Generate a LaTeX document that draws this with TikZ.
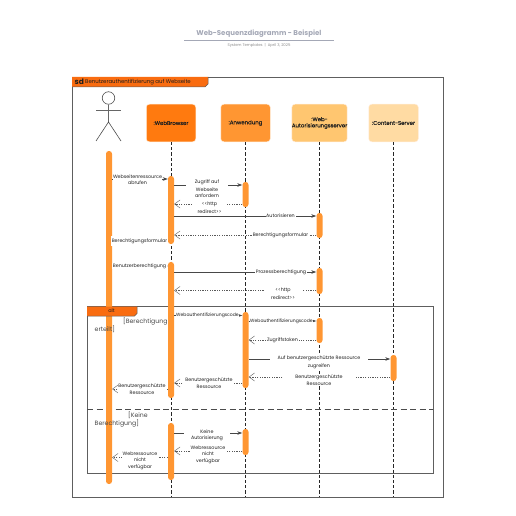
\documentclass[tikz,border=0pt]{standalone}
\usepackage{fontspec}
\setmainfont{Poppins}
\newfontfamily\medf[FakeBold=0.12]{Poppins}
\usetikzlibrary{arrows.meta,calc}
\definecolor{orA}{HTML}{FF7A0F}
\definecolor{orB}{HTML}{FF9632}
\definecolor{orC}{HTML}{FFC670}
\definecolor{orD}{HTML}{FFDBA3}
\definecolor{tabc}{HTML}{F96C10}
\definecolor{framec}{HTML}{5E5E5E}
\definecolor{txt}{HTML}{1F1F1F}
\definecolor{titlec}{HTML}{A4A8B6}
\newcommand{\fs}[1]{\fontsize{#1}{#1}\selectfont}
\tikzset{
 x=1pt,y=-1pt,
 framebox/.style={draw=framec,line width=0.9pt},
 life/.style={draw=black!85,line width=0.9pt,dash pattern=on 3.2pt off 2pt},
 lifebox/.style={draw=white!85!orange,line width=0.5pt,rounded corners=3pt,minimum height=37.5pt,inner sep=0pt,align=center,text=txt,font=\fs{5.4}\medf},
 bar/.style={fill=orB,draw=none,rounded corners=2.8pt,minimum width=6pt,inner sep=0pt},
 call/.style={draw=black!72,line width=0.7pt,-{Stealth[length=5pt,width=3.5pt]}},
 ret/.style={draw=black!65,line width=0.45pt,dash pattern=on 1.2pt off 1.2pt,-{Straight Barb[length=5.5pt,width=8pt,line width=0.4pt]}},
 lbl/.style={fill=white,inner sep=0.7pt,align=center,text=txt,font=\fs{4.8}},
 lblf/.style={inner sep=0pt,align=center,text=txt,font=\fs{4.8}},
 guard/.style={inner sep=0pt,text=black!72,font=\fs{6.2}},
}
\newcommand{\barnode}[4]{\node[bar,minimum height=#4-#3] (#1) at (#2,{(#3+#4)/2}) {};}
\begin{document}
\begin{tikzpicture}
\useasboundingbox (0,0) rectangle (516,516);
% title
\node[inner sep=0pt,text=titlec,font=\fs{7}\bfseries] (title) at (259,34) {Web-Sequenzdiagramm - Beispiel};
\coordinate (tl) at (184,40.5); \coordinate (tr) at (334,40.5);
\draw[draw=titlec,line width=0.9pt] (tl) -- (tr);
\node[inner sep=0pt,text=black!45,font=\fs{3.8}] (sub) at (259,45.5) {System Templates \ |\ \ April 3, 2025};
% main frame
\node[framebox,minimum width=371pt,minimum height=420pt,inner sep=0pt] (frame) at (257.5,287) {};
\fill[tabc] (72,77) -- (208,77) -- (208,84) -- (205,87) -- (72,87) -- cycle;
\draw[framec,line width=0.5pt] (208,77) -- (208,84) -- (205,87) -- (72,87);
\node[inner sep=0pt,text=txt,font=\fs{7.5}\bfseries,anchor=west] (sd) at (74.5,81.5) {sd};
\node[inner sep=0pt,text=txt,font=\fs{5.4},anchor=west] (sdt) at (85,82) {Benutzerauthentifizierung auf Webseite};
% actor
\node[circle,draw=black!70,line width=0.6pt,minimum size=12.5pt,inner sep=0pt] (head) at (108.5,98) {};
\coordinate (armL) at (96,110.5); \coordinate (armR) at (121,110.5);
\coordinate (hip) at (108.5,122); \coordinate (footL) at (96,141); \coordinate (footR) at (121,141);
\draw[black!60,line width=0.7pt] (head) -- (hip) (armL) -- (armR);
\draw[black!70,line width=0.6pt] (footL) -- (hip) -- (footR);
% lifeline heads
\node[lifebox,fill=orA,minimum width=49.5pt] (wb) at (171,123) {:WebBrowser};
\node[lifebox,fill=orB,minimum width=49.5pt] (app) at (245.5,123) {:Anwendung};
\node[lifebox,fill=orC,minimum width=49.5pt] (auth) at (319.5,123) {:Web-\\[0.8pt]Autorisierungsserver};
\node[lifebox,fill=orD,minimum width=49.5pt] (cs) at (393.5,123) {:Content-Server};
\coordinate (wbE) at (171,497); \coordinate (appE) at (245.5,497);
\coordinate (authE) at (319.5,497); \coordinate (csE) at (393.5,497);
\draw[life] (wb) -- (wbE); \draw[life] (app) -- (appE); \draw[life] (auth) -- (authE); \draw[life] (cs) -- (csE);
% alt frame
\node[framebox,minimum width=346pt,minimum height=166.5pt,inner sep=0pt] (alt) at (260,389.75) {};
\coordinate (sepL) at (87,409); \coordinate (sepR) at (433,409);
\draw[draw=black!70,line width=0.8pt,dash pattern=on 6pt off 3.5pt] (sepL) -- (sepR);
% activation bars
\barnode{A}{109}{151}{484}
\barnode{W1}{171}{176}{244}
\barnode{W2}{171}{262}{398}
\barnode{W3}{171}{423}{480}
\barnode{P1}{245.5}{182}{207}
\barnode{P2}{245.5}{312}{388}
\barnode{P3}{245.5}{429}{455}
\barnode{U1}{319.5}{213}{238}
\barnode{U2}{319.5}{268}{294}
\barnode{U3}{319.5}{318}{343}
\barnode{C1}{393.5}{355}{381}
% alt tab
\fill[tabc] (87,306.5) -- (137,306.5) -- (137,313.5) -- (134.5,316) -- (87,316) -- cycle;
\draw[framec,line width=0.5pt] (137,306.5) -- (137,313.5) -- (134.5,316) -- (87,316);
\node[inner sep=0pt,text=txt,font=\fs{5}] (altl) at (111.5,311) {alt};
% messages
\draw[call] (A.east |- 0,179) -- (W1.west |- 0,179);
\node[lblf,fill=white,inner sep=0.3pt] (m1) at (137.5,179.5) {Webseitenressource\\[1.7pt]abrufen};
\draw[call] (W1.east |- 0,185) -- (P1.west |- 0,185);
\node[lblf,fill=white,inner xsep=9pt,inner ysep=1pt] (m2) at (207,189) {Zugriff auf\\[1.7pt]Webseite\\[1.7pt]anfordern};
\draw[ret] (P1.west |- 0,204) -- (W1.east |- 0,204);
\node[lblf,fill=white,inner xsep=6pt,inner ysep=1pt] (m3) at (209.5,207.5) {<{}<http\\[1.7pt]redirect>{}>};
\draw[call] (W1.east |- 0,216) -- (U1.west |- 0,216);
\node[lbl] (m4) at (280.5,216) {Autorisieren};
\draw[ret] (U1.west |- 0,235) -- (W1.east |- 0,235);
\node[lbl] (m5) at (280.5,235) {Berechtigungsformular};
\draw[ret] (W1.west |- 0,241) -- (A.east |- 0,241);
\node[lbl,inner xsep=0.5pt,inner ysep=3pt] (m6) at (139.5,241) {Berechtigungsformular};
\draw[call] (A.east |- 0,266) -- (W2.west |- 0,266);
\node[lbl] (m7) at (139.5,266) {Benutzerberechtigung};
\draw[call] (W2.east |- 0,272) -- (U2.west |- 0,272);
\node[lbl] (m8) at (281,272) {Prozessberechtigung};
\draw[ret] (U2.west |- 0,290.5) -- (W2.east |- 0,290.5);
\node[lblf,fill=white,inner xsep=7pt,inner ysep=1pt] (m9) at (283,294) {<{}<http\\[1.7pt]redirect>{}>};
\draw[call] (W2.east |- 0,315.5) -- (P2.west |- 0,315.5);
\node[lbl,inner sep=0.3pt,font=\fs{4.55}] (m10) at (207.5,315.5) {Webauthentifizierungscode};
\draw[call] (P2.east |- 0,321) -- (U3.west |- 0,321);
\node[lbl,inner sep=0.3pt,font=\fs{4.55}] (m11) at (281.5,321) {Webauthentifizierungscode};
\draw[ret] (U3.west |- 0,340) -- (P2.east |- 0,340);
\node[lbl] (m12) at (282.5,340) {Zugriffstoken};
\draw[call] (P2.east |- 0,359) -- (C1.west |- 0,359);
\node[lblf,fill=white,inner xsep=8pt,inner ysep=1pt] (m13) at (319,362) {Auf benutzergeschützte Ressource\\[1.7pt]zugreifen};
\draw[ret] (C1.west |- 0,377) -- (P2.east |- 0,377);
\node[lblf,fill=white,inner xsep=12pt,inner ysep=1pt] (m14) at (319,380) {Benutzergeschützte\\[1.7pt]Ressource};
\draw[ret] (P2.west |- 0,383) -- (W2.east |- 0,383);
\node[lblf,fill=white,inner sep=1pt] (m15) at (209,383) {Benutzergeschützte\\[1.7pt]Ressource};
\draw[ret] (W2.west |- 0,389) -- (A.east |- 0,389);
\node[lblf,fill=white,inner sep=0.2pt] (m16) at (142,389) {Benutzergeschützte\\[1.7pt]Ressource};
\draw[call] (W3.east |- 0,433) -- (P3.west |- 0,433);
\node[lblf,fill=white,inner xsep=7pt,inner ysep=1pt] (m17) at (207,435.5) {Keine\\[1.7pt]Autorisierung};
\draw[ret] (P3.west |- 0,451) -- (W3.east |- 0,451);
\node[lblf,fill=white,inner sep=1pt] (m18) at (208,454.5) {Webressource\\[1.7pt]nicht\\[1.7pt]verfügbar};
\draw[ret] (W3.west |- 0,457.5) -- (A.east |- 0,457.5);
\node[lblf,fill=white,inner sep=1pt] (m19) at (140,460.5) {Webressource\\[1.7pt]nicht\\[1.7pt]verfügbar};
% guards
\node[guard,anchor=west] (g1) at (123,321.5) {[Berechtigung};
\node[guard,anchor=west] (g2) at (94.5,329.5) {erteilt]};
\node[guard,anchor=west] (g3) at (128,415.5) {[Keine};
\node[guard,anchor=west] (g4) at (94.5,423.5) {Berechtigung]};
\end{tikzpicture}
\end{document}
